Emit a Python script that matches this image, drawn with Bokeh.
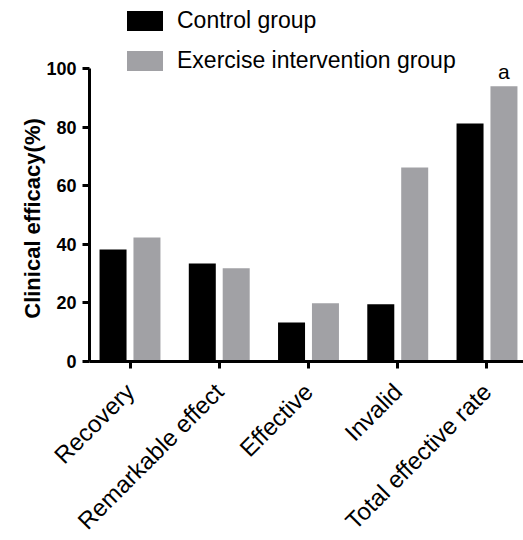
import math
from bokeh.plotting import figure
from bokeh.models import (ColumnDataSource, Range1d, FixedTicker, Legend, LegendItem)
from bokeh.transform import dodge
from bokeh.core.properties import value
from bokeh.embed import file_html
from bokeh.resources import INLINE

categories = ["Recovery", "Remarkable effect", "Effective", "Invalid", "Total effective rate"]
control_group = [38.2, 33.4, 13.3, 19.5, 81.2]
exercise_group = [42.3, 31.8, 19.9, 66.2, 93.9]
y_ticks = [0, 20, 40, 60, 80, 100]
sig_marks = ["", "", "", "", "a"]
y_title = "Clinical efficacy(%)"

FONT = "Liberation Sans"
BLACK = "#000000"
GRAY = "#a1a1a5"

X0, X1 = -0.454, 4.409  # axis extent along x (categories index space)

idx = list(range(len(categories)))
src = ColumnDataSource(dict(x=idx, control=control_group, exercise=exercise_group, mark=sig_marks))

p = figure(width=523, height=540, output_backend="svg", toolbar_location=None,
           x_range=Range1d(-1.451, X1), y_range=Range1d(-61.1, 123.2),
           min_border_left=0, min_border_right=0, min_border_top=0, min_border_bottom=0)
p.outline_line_color = None
p.xgrid.grid_line_color = None
p.ygrid.grid_line_color = None
p.background_fill_color = "white"
p.border_fill_color = "white"

r1 = p.vbar(x=dodge("x", -0.19, range=p.x_range), top="control", bottom=0, width=0.3025, source=src,
            fill_color=BLACK, line_color=BLACK, line_width=0)
r2 = p.vbar(x=dodge("x", 0.19, range=p.x_range), top="exercise", bottom=0, width=0.3025, source=src,
            fill_color=GRAY, line_color=GRAY, line_width=0)

p.text(x=dodge("x", 0.19, range=p.x_range), y="exercise", text="mark", source=src,
       text_font=value(FONT), text_font_size="21px", text_color=BLACK,
       text_align="center", text_baseline="alphabetic", y_offset=-15)

# y-axis title drawn as text in data space, left of the axis
p.text(x=[-1.0925], y=[48.8], text=[y_title], angle=math.pi / 2,
       text_font=value(FONT), text_font_size="22px", text_font_style="bold",
       text_color=BLACK, text_align="center", text_baseline="middle")

# axes
for ax in (p.xaxis[0], p.yaxis[0]):
    ax.axis_line_width = 3
    ax.axis_line_color = BLACK
    ax.major_tick_line_width = 3
    ax.major_tick_line_color = BLACK
    ax.major_tick_in = 0
    ax.major_tick_out = 7
    ax.minor_tick_line_color = None
    ax.major_label_text_font = FONT
    ax.major_label_text_color = BLACK

p.yaxis.fixed_location = X0
p.yaxis.ticker = FixedTicker(ticks=y_ticks)
p.yaxis.bounds = (0, 100)
p.yaxis.major_label_text_font_size = "18px"
p.yaxis.major_label_text_font_style = "bold"
p.yaxis.major_label_standoff = 6

p.xaxis.fixed_location = 0
p.xaxis.bounds = (X0, X1)
p.xaxis.ticker = FixedTicker(ticks=idx)
p.xaxis.major_label_overrides = {i: c for i, c in zip(idx, categories)}
p.xaxis.major_label_orientation = math.pi / 4
p.xaxis.major_label_text_font_size = "24px"
p.xaxis.major_label_standoff = 19

legend = Legend(items=[LegendItem(label="Control group", renderers=[r1]),
                       LegendItem(label="Exercise intervention group", renderers=[r2])],
                location=(122, 466), orientation="vertical",
                glyph_width=45, glyph_height=25, label_height=20, label_width=10,
                spacing=13, padding=0, margin=0, label_standoff=10,
                label_text_font=FONT, label_text_font_size="23px", label_text_color=BLACK,
                border_line_color=None, background_fill_alpha=0)
p.add_layout(legend)

open("out.html", "w").write(file_html(p, INLINE))
